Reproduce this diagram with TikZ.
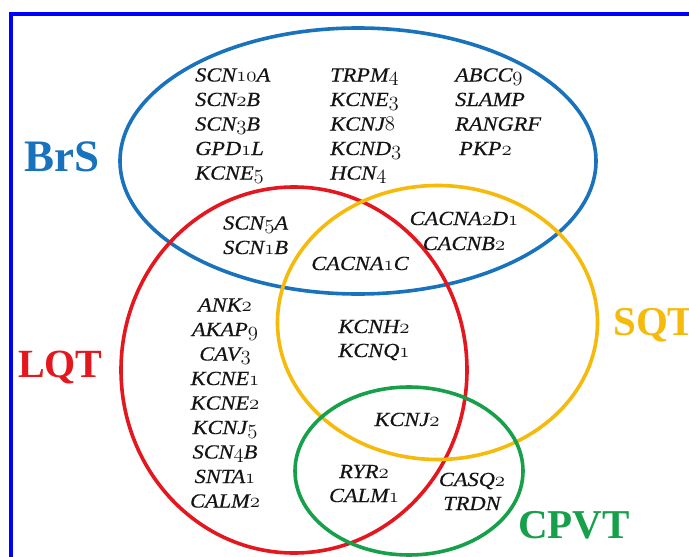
\documentclass[tikz,border=0pt]{standalone}
\usepackage{fontspec}
\setmainfont{Liberation Serif}
\newfontfamily\genefont{Liberation Serif}[FakeStretch=1.12,FakeBold=0.35]
\newcommand\os[1]{{\usefont{OML}{lmm}{b}{it}#1}}
\definecolor{frameblue}{RGB}{0,0,255}
\definecolor{brsblue}{RGB}{24,114,188}
\definecolor{lqtred}{RGB}{228,22,30}
\definecolor{sqtgold}{RGB}{245,186,10}
\definecolor{cpvtgreen}{RGB}{22,160,74}
\definecolor{genetext}{RGB}{20,20,20}
\begin{document}
\begin{tikzpicture}[x=1pt,y=-1pt,
  gene/.style={font=\genefont\itshape\fontsize{20}{24}\selectfont, text=genetext, inner sep=0pt},
  lbl/.style={font=\bfseries\fontsize{#1}{#1}\selectfont, inner sep=0pt, anchor=base west},
  ring/.style={line width=3.6pt, draw=#1},
]
\path[use as bounding box] (0,0) rectangle (689,557);
\clip (0,0) rectangle (689,557);
\fill[white] (0,0) rectangle (689,557);
% frame
\draw[line width=4.2pt, draw=frameblue] (11,600) -- (11,14) -- (700,14);
% sets
\draw[ring=brsblue] (358,161) ellipse [x radius=238pt, y radius=133pt];
\draw[ring=lqtred] (294,370) ellipse [x radius=173pt, y radius=183pt];
\draw[ring=sqtgold] (437.5,322.5) ellipse [x radius=160pt, y radius=137pt];
\draw[ring=cpvtgreen] (409,471) ellipse [x radius=114pt, y radius=84pt];
% set labels
\node[lbl=45, text=brsblue] (brs) at (24,171) {BrS};
\node[lbl=40, text=lqtred] (lqt) at (18,377) {LQT};
\node[lbl=41, text=sqtgold] (sqt) at (613,335) {SQT};
\node[lbl=41, text=cpvtgreen] (cpvt) at (518,538) {CPVT};
% BrS only
\node[gene, anchor=base west] (a1) at (195,81.5) {SCN\os{10}A};
\node[gene, anchor=base west] (a2) at (195,106) {SCN\os{2}B};
\node[gene, anchor=base west] (a3) at (195,130.5) {SCN\os{3}B};
\node[gene, anchor=base west] (a4) at (195,155) {GPD\os{1}L};
\node[gene, anchor=base west] (a5) at (195,179.5) {KCNE\os{5}};
\node[gene, anchor=base west] (b1) at (330,81.5) {TRPM\os{4}};
\node[gene, anchor=base west] (b2) at (330,106) {KCNE\os{3}};
\node[gene, anchor=base west] (b3) at (330,130.5) {KCNJ\os{8}};
\node[gene, anchor=base west] (b4) at (330,155) {KCND\os{3}};
\node[gene, anchor=base west] (b5) at (330,179.5) {HCN\os{4}};
\node[gene, anchor=base west] (c1) at (455,81.5) {ABCC\os{9}};
\node[gene, anchor=base west] (c2) at (455,106) {SLAMP};
\node[gene, anchor=base west] (c3) at (455,130.5) {RANGRF};
\node[gene, anchor=base west] (c4) at (459,155) {PKP\os{2}};
% BrS & LQT
\node[gene, anchor=base west] (d1) at (223,229.5) {SCN\os{5}A};
\node[gene, anchor=base west] (d2) at (223,254) {SCN\os{1}B};
% BrS & SQT
\node[gene, anchor=base] (e1) at (464,225) {CACNA\os{2}D\os{1}};
\node[gene, anchor=base] (e2) at (464,250) {CACNB\os{2}};
% BrS & LQT & SQT
\node[gene, anchor=base] (f1) at (360,270) {CACNA\os{1}C};
% LQT only
\node[gene, anchor=base] (l1) at (225,311.5) {ANK\os{2}};
\node[gene, anchor=base] (l2) at (225,336) {AKAP\os{9}};
\node[gene, anchor=base] (l3) at (225,360.5) {CAV\os{3}};
\node[gene, anchor=base] (l4) at (225,385) {KCNE\os{1}};
\node[gene, anchor=base] (l5) at (225,409.5) {KCNE\os{2}};
\node[gene, anchor=base] (l6) at (225,434) {KCNJ\os{5}};
\node[gene, anchor=base] (l7) at (225,458.5) {SCN\os{4}B};
\node[gene, anchor=base] (l8) at (225,483) {SNTA\os{1}};
\node[gene, anchor=base] (l9) at (225,507.5) {CALM\os{2}};
% LQT & SQT
\node[gene, anchor=base] (m1) at (374,333) {KCNH\os{2}};
\node[gene, anchor=base] (m2) at (374,357) {KCNQ\os{1}};
% LQT & SQT & CPVT
\node[gene, anchor=base] (n1) at (407,426) {KCNJ\os{2}};
% LQT & CPVT
\node[gene, anchor=base] (p1) at (364,478) {RYR\os{2}};
\node[gene, anchor=base] (p2) at (364,502) {CALM\os{1}};
% CPVT only
\node[gene, anchor=base] (q1) at (472,486) {CASQ\os{2}};
\node[gene, anchor=base] (q2) at (472,510) {TRDN};
\end{tikzpicture}
\end{document}
